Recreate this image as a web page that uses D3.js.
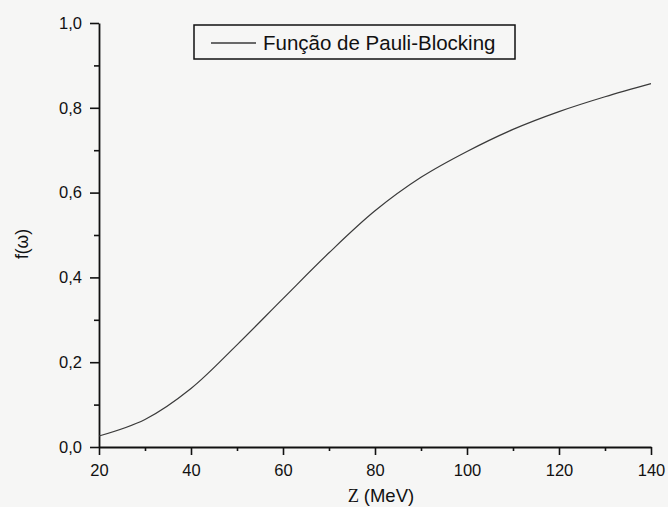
<!DOCTYPE html>
<html>
<head>
<meta charset="utf-8">
<script src="https://cdn.jsdelivr.net/npm/d3@7/dist/d3.min.js"></script>
<style>
  html, body { margin: 0; padding: 0; background: #f6f6f5; }
  svg { display: block; }
  text { font-family: "Liberation Sans", Arial, sans-serif; fill: #111; }
</style>
</head>
<body>
<svg id="chart" width="668" height="507"></svg>
<script>
// Data
const zValues = [20, 30, 40, 50, 60, 70, 80, 90, 100, 110, 120, 130, 140];
const fValues = [0.026, 0.065, 0.138, 0.241, 0.350, 0.458, 0.557, 0.636, 0.697, 0.749, 0.791, 0.826, 0.857];
const xMajorTicks = [20, 40, 60, 80, 100, 120, 140];
const xMinorTicks = [30, 50, 70, 90, 110, 130];
const yMajorTicks = [0.0, 0.2, 0.4, 0.6, 0.8, 1.0];
const yMinorTicks = [0.1, 0.3, 0.5, 0.7, 0.9];
const seriesName = "Função de Pauli-Blocking";
const xTitleSymbol = "Z";
const xTitleUnit = "(MeV)";
const yTitle = "f(ω)";

const svg = d3.select("#chart");
const x = d3.scaleLinear().domain([20, 140]).range([99, 651]);
const y = d3.scaleLinear().domain([0, 1]).range([447, 23]);
const fmt = d => d3.format(".1f")(d).replace(".", ",");

const g = svg.append("g");

// x axis
g.append("g").attr("transform", `translate(0,${y(0)})`)
  .call(d3.axisBottom(x).tickValues(xMajorTicks).tickSize(8).tickPadding(9).tickSizeOuter(0).tickFormat(d3.format("d")));
g.append("g").attr("transform", `translate(0,${y(0)})`)
  .call(d3.axisBottom(x).tickValues(xMinorTicks).tickSize(4).tickSizeOuter(0).tickFormat(""))
  .select(".domain").remove();

// y axis
g.append("g").attr("transform", `translate(${x(20)},0)`)
  .call(d3.axisLeft(y).tickValues(yMajorTicks).tickSize(9).tickPadding(8).tickSizeOuter(0).tickFormat(fmt));
g.append("g").attr("transform", `translate(${x(20)},0)`)
  .call(d3.axisLeft(y).tickValues(yMinorTicks).tickSize(5).tickSizeOuter(0).tickFormat(""))
  .select(".domain").remove();

g.selectAll(".domain").attr("stroke", "#111").attr("stroke-width", 1.8);
g.selectAll(".tick line").attr("stroke", "#111").attr("stroke-width", 1.6);
g.selectAll(".tick text").attr("font-size", 16.5).attr("font-family", "Liberation Sans, Arial, sans-serif").attr("fill", "#111");

// curve
const data = zValues.map((z, i) => ({z, f: fValues[i]}));
g.append("path").datum(data)
  .attr("fill", "none").attr("stroke", "#3a3a3a").attr("stroke-width", 1.2)
  .attr("d", d3.line().x(d => x(d.z)).y(d => y(d.f)).curve(d3.curveCatmullRom));

// axis titles
const xt = svg.append("text").attr("x", 381).attr("y", 501.5).attr("text-anchor", "middle").attr("font-size", 18.5);
xt.append("tspan").attr("font-family", "Liberation Serif, Times New Roman, serif").text(xTitleSymbol + " ");
xt.append("tspan").text(xTitleUnit);

svg.append("text").attr("transform", "translate(28,244) rotate(-90)")
  .attr("text-anchor", "middle").attr("font-size", 17.5).text(yTitle);

// legend
const leg = svg.append("g");
leg.append("rect").attr("x", 194).attr("y", 25).attr("width", 321).attr("height", 34)
  .attr("fill", "none").attr("stroke", "#111").attr("stroke-width", 1.5);
leg.append("line").attr("x1", 211).attr("x2", 256).attr("y1", 43).attr("y2", 43)
  .attr("stroke", "#3a3a3a").attr("stroke-width", 1.3);
leg.append("text").attr("x", 263).attr("y", 49.5).attr("font-size", 20.5).text(seriesName);
</script>
</body>
</html>
